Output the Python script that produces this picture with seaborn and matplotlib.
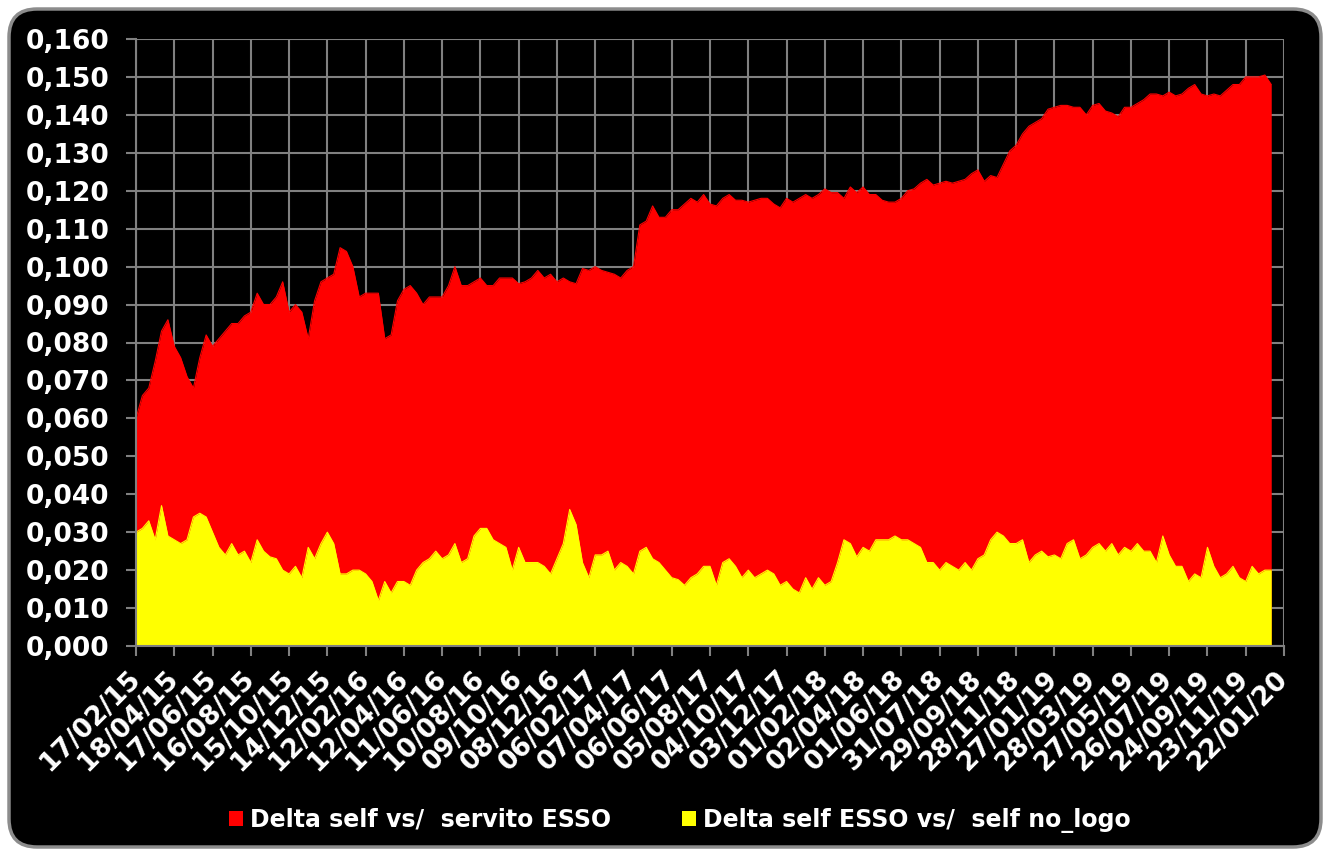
import numpy as np
import pandas as pd
import matplotlib
matplotlib.use("Agg")
import matplotlib.pyplot as plt
from matplotlib.patches import FancyBboxPatch, Patch
import seaborn as sns

# Data: one value every 10 days from 17/02/2015
start_date = "2015-02-17"
step_days = 10

delta_servito = [
    0.060, 0.066, 0.068, 0.075, 0.083, 0.086, 0.079, 0.076, 0.071, 0.068,
    0.076, 0.082, 0.079, 0.081, 0.083, 0.085, 0.085, 0.087, 0.088, 0.093,
    0.090, 0.090, 0.092, 0.096, 0.088, 0.090, 0.088, 0.081, 0.091, 0.096,
    0.097, 0.098, 0.105, 0.104, 0.100, 0.092, 0.093, 0.093, 0.093, 0.081,
    0.082, 0.091, 0.094, 0.095, 0.093, 0.090, 0.092, 0.092, 0.092, 0.095,
    0.100, 0.095, 0.095, 0.096, 0.097, 0.095, 0.095, 0.097, 0.097,
    0.097, 0.0955, 0.096, 0.097, 0.099, 0.097, 0.098, 0.096, 0.097, 0.096,
    0.0955, 0.0995, 0.099, 0.100, 0.099, 0.0985, 0.098, 0.097, 0.099, 0.100,
    0.111, 0.112, 0.116, 0.113, 0.113, 0.115, 0.115, 0.1165, 0.118, 0.117,
    0.119, 0.1165, 0.116, 0.118, 0.119, 0.1175, 0.1175, 0.117, 0.1175, 0.118,
    0.118, 0.1165, 0.1155, 0.118, 0.117, 0.118, 0.119, 0.118, 0.119, 0.1205,
    0.1195, 0.1195, 0.118, 0.121, 0.1195, 0.121, 0.119, 0.119,
    0.1175, 0.117, 0.117, 0.118, 0.120, 0.1205, 0.122, 0.123, 0.1215, 0.122,
    0.1225, 0.122, 0.1225, 0.123, 0.1245, 0.1255, 0.1225, 0.124, 0.1235, 0.127,
    0.1305, 0.132, 0.135, 0.137, 0.138, 0.139, 0.1415, 0.142, 0.1425, 0.1425,
    0.142, 0.142, 0.140, 0.1425, 0.143, 0.141, 0.1405, 0.1395, 0.142, 0.142,
    0.143, 0.144, 0.1455, 0.1455, 0.145, 0.146, 0.145, 0.1455, 0.147, 0.148,
    0.1455, 0.145, 0.1455, 0.145, 0.1465, 0.148, 0.148, 0.150, 0.150, 0.150,
    0.1505, 0.148,
]

delta_nologo = [
    0.030, 0.031, 0.033, 0.028, 0.037, 0.029, 0.028, 0.027, 0.028, 0.034,
    0.035, 0.034, 0.030, 0.026, 0.024, 0.027, 0.024, 0.025, 0.022, 0.028,
    0.025, 0.0235, 0.023, 0.020, 0.019, 0.021, 0.018, 0.026, 0.023, 0.027,
    0.030, 0.027, 0.019, 0.019, 0.020, 0.020, 0.019, 0.017, 0.012, 0.017,
    0.014, 0.017, 0.017, 0.016, 0.020, 0.022, 0.023, 0.025, 0.023, 0.024,
    0.027, 0.022, 0.023, 0.029, 0.031, 0.031, 0.028, 0.027, 0.026,
    0.020, 0.026, 0.022, 0.022, 0.022, 0.021, 0.019, 0.023, 0.027, 0.036,
    0.032, 0.022, 0.018, 0.024, 0.024, 0.025, 0.020, 0.022, 0.021, 0.019,
    0.025, 0.026, 0.023, 0.022, 0.020, 0.018, 0.0175, 0.016, 0.018, 0.019,
    0.021, 0.021, 0.016, 0.022, 0.023, 0.021, 0.018, 0.020, 0.018, 0.019,
    0.020, 0.019, 0.016, 0.017, 0.015, 0.014, 0.018, 0.015, 0.018, 0.016,
    0.017, 0.022, 0.028, 0.027, 0.0235, 0.026, 0.025, 0.028,
    0.028, 0.028, 0.029, 0.028, 0.028, 0.027, 0.026, 0.022, 0.022, 0.020,
    0.022, 0.021, 0.020, 0.022, 0.020, 0.023, 0.024, 0.028, 0.030, 0.029,
    0.027, 0.027, 0.028, 0.022, 0.024, 0.025, 0.0235, 0.024, 0.023, 0.027,
    0.028, 0.023, 0.024, 0.026, 0.027, 0.025, 0.027, 0.024, 0.026, 0.025,
    0.027, 0.025, 0.025, 0.022, 0.029, 0.024, 0.021, 0.021, 0.017, 0.019,
    0.018, 0.026, 0.021, 0.018, 0.019, 0.021, 0.018, 0.017, 0.021, 0.019,
    0.020, 0.020,
]

series_names = ["Delta self vs/  servito ESSO", "Delta self ESSO vs/  self no_logo"]
series_colors = ["#ff0000", "#ffff00"]

df = pd.DataFrame({
    "date": pd.date_range(start_date, periods=len(delta_servito), freq=f"{step_days}D"),
    "servito": delta_servito,
    "nologo": delta_nologo,
})

# x axis: a label every 60 days, 31 labels
tick_dates = pd.date_range(start_date, periods=31, freq="60D")
y_ticks = np.arange(0, 0.1605, 0.01)

sns.set_theme(style="dark")
plt.rcParams["font.family"] = ["DejaVu Sans"]

fig = plt.figure(figsize=(13.25, 8.52), dpi=100, facecolor="white")
fig.patches.append(FancyBboxPatch((9, 5), 1312, 838,
                                  boxstyle="round,pad=0,rounding_size=28",
                                  transform=None, fc="black", ec="#8c8c8c", lw=2.5,
                                  zorder=-10))

ax = fig.add_axes([136 / 1325, 1 - 646 / 852, (1284 - 136) / 1325, (646 - 39) / 852])
ax.set_zorder(5)
ax.set_facecolor("black")

ax.fill_between(df["date"], 0, df["servito"], color=series_colors[0], lw=0, zorder=2)
sns.lineplot(data=df, x="date", y="servito", color=series_colors[0], lw=0.8, ax=ax, zorder=2)
ax.fill_between(df["date"], 0, df["nologo"], color=series_colors[1], lw=0, zorder=3)
sns.lineplot(data=df, x="date", y="nologo", color=series_colors[1], lw=0.8, ax=ax, zorder=3)

ax.set_xlim(tick_dates[0], tick_dates[-1])
ax.set_ylim(0, 0.16)
ax.set_xticks(tick_dates)
ax.set_xticklabels([d.strftime("%d/%m/%y") for d in tick_dates],
                   rotation=45, ha="right", va="center", rotation_mode="anchor",
                   fontsize=19, fontweight="bold", color="white")
ax.set_yticks(y_ticks)
ax.set_yticklabels([f"{v:.3f}".replace(".", ",") for v in y_ticks],
                   fontsize=19, fontweight="bold", color="white")
ax.set_xlabel("")
ax.set_ylabel("")

ax.grid(True, color="#808080", lw=1.5)
ax.set_axisbelow(True)
ax.tick_params(axis="both", which="major", color="#808080", length=7, width=1.5,
               direction="out", left=True, bottom=True)
ax.tick_params(axis="y", pad=12)
ax.tick_params(axis="x", pad=14)
for side in ["top", "right"]:
    ax.spines[side].set_visible(False)
for side in ["left", "bottom"]:
    ax.spines[side].set_color("#808080")
    ax.spines[side].set_linewidth(1.5)
    ax.spines[side].set_zorder(5)

handles = [Patch(facecolor=c, edgecolor="none") for c in series_colors]
fig.legend(handles, series_names, loc="center", bbox_to_anchor=(0.513, 0.037),
           ncol=2, frameon=False, handlelength=0.6, handleheight=0.6,
           handletextpad=0.3, columnspacing=3.0,
           prop={"weight": "bold", "size": 17}, labelcolor="white")

fig.savefig("out.png", dpi=100, facecolor="white")
